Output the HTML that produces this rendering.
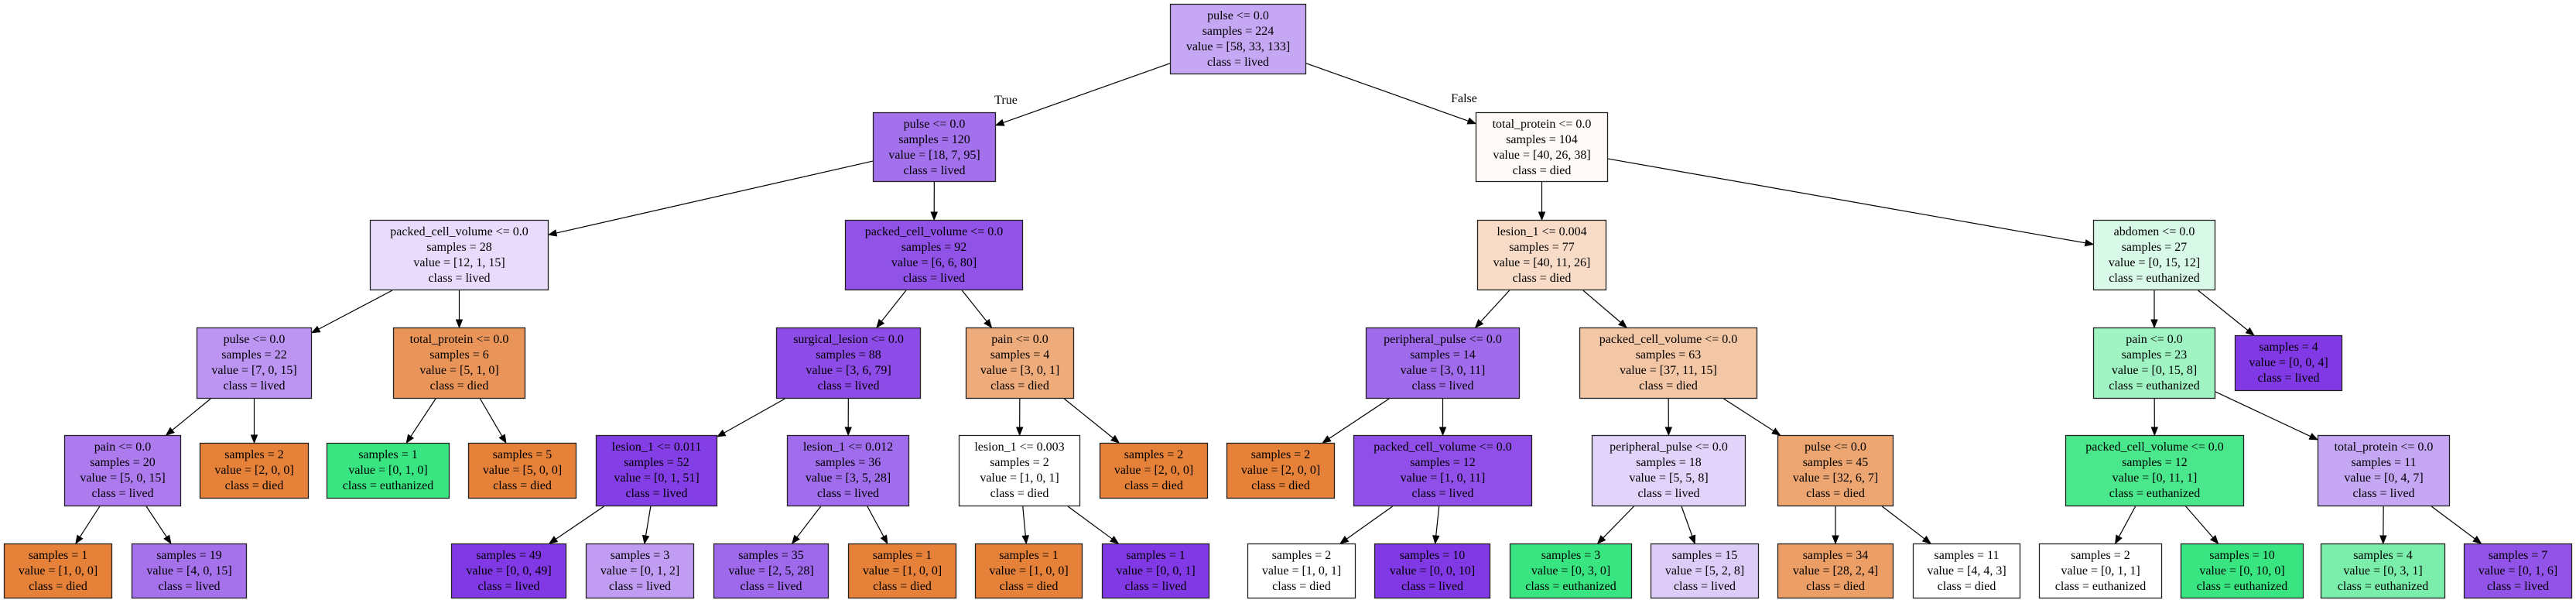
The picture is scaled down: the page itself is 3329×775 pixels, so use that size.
<!DOCTYPE html>
<html><head><meta charset="utf-8">
<style>
html,body{margin:0;padding:0;background:#fff;width:3329px;height:775px;overflow:hidden}
svg{display:block}
text{font-family:"Liberation Serif",serif;font-size:16px;fill:#000}
</style></head>
<body>
<svg id="s" width="3329" height="775" viewBox="0 0 3329 775" xmlns="http://www.w3.org/2000/svg"></svg>
<script>
var R={0:[5,96],1:[145,235],2:[284,375],3:[423,515],4:[562,654],5:[702,773]};
function B(x1,x2,row,fill,lines,p,leafY){
  var y1,y2;
  if(leafY){y1=leafY[0];y2=leafY[1];}
  else if(lines.length==3){var r=R[row];var c=(r[0]+r[1])/2; if(row==5){y1=r[0];y2=r[1];}else{y1=c-36;y2=c+36;}}
  else {y1=R[row][0];y2=R[row][1];}
  return {x1:x1,x2:x2,y1:y1,y2:y2,fill:fill,lines:lines,p:p};
}
var N=[];
function add(n){N.push(n);return N.length-1;}
var L="class = lived",D="class = died",E="class = euthanized";
var root=add(B(1512,1688,0,"#c5a7f3",["pulse <= 0.0","samples = 224","value = [58, 33, 133]",L],-1));
var n1=add(B(1128,1287,1,"#a471ed",["pulse <= 0.0","samples = 120","value = [18, 7, 95]",L],root));
var n2=add(B(478,709,2,"#e8dbfb",["packed_cell_volume <= 0.0","samples = 28","value = [12, 1, 15]",L],n1));
var n3=add(B(1092,1322,2,"#9152e8",["packed_cell_volume <= 0.0","samples = 92","value = [6, 6, 80]",L],n1));
var n4=add(B(254,403,3,"#bb95f1",["pulse <= 0.0","samples = 22","value = [7, 0, 15]",L],n2));
var n5=add(B(508,679,3,"#e99559",["total_protein <= 0.0","samples = 6","value = [5, 1, 0]",D],n2));
var n6=add(B(1003,1190,3,"#8d4be7",["surgical_lesion <= 0.0","samples = 88","value = [3, 6, 79]",L],n3));
var n7=add(B(1248,1388,3,"#eeab7b",["pain <= 0.0","samples = 4","value = [3, 0, 1]",D],n3));
var n8=add(B(83,234,4,"#ad7bee",["pain <= 0.0","samples = 20","value = [5, 0, 15]",L],n4));
add(B(258,399,4,"#e58139",["samples = 2","value = [2, 0, 0]",D],n4));
add(B(422,581,4,"#39e581",["samples = 1","value = [0, 1, 0]",E],n5));
add(B(605,745,4,"#e58139",["samples = 5","value = [5, 0, 0]",D],n5));
var n9=add(B(770,927,4,"#843ee6",["lesion_1 <= 0.011","samples = 52","value = [0, 1, 51]",L],n6));
var n10=add(B(1017,1175,4,"#a06dec",["lesion_1 <= 0.012","samples = 36","value = [3, 5, 28]",L],n6));
var n11=add(B(1239,1396,4,"#ffffff",["lesion_1 <= 0.003","samples = 2","value = [1, 0, 1]",D],n7));
add(B(1421,1561,4,"#e58139",["samples = 2","value = [2, 0, 0]",D],n7));
add(B(5,145,5,"#e58139",["samples = 1","value = [1, 0, 0]",D],n8));
add(B(170,319,5,"#a572ec",["samples = 19","value = [4, 0, 15]",L],n8));
add(B(583,732,5,"#8139e5",["samples = 49","value = [0, 0, 49]",L],n9));
add(B(757,897,5,"#c09cf2",["samples = 3","value = [0, 1, 2]",L],n9));
add(B(922,1071,5,"#9e69eb",["samples = 35","value = [2, 5, 28]",L],n10));
add(B(1096,1236,5,"#e58139",["samples = 1","value = [1, 0, 0]",D],n10));
add(B(1260,1399,5,"#e58139",["samples = 1","value = [1, 0, 0]",D],n11));
add(B(1424,1563,5,"#8139e5",["samples = 1","value = [0, 0, 1]",L],n11));
// right side
var m1=add(B(1907,2078,1,"#fffaf7",["total_protein <= 0.0","samples = 104","value = [40, 26, 38]",D],root));
var m2=add(B(1909,2076,2,"#f8dcc8",["lesion_1 <= 0.004","samples = 77","value = [40, 11, 26]",D],m1));
var m3=add(B(2705,2863,2,"#d9f9e8",["abdomen <= 0.0","samples = 27","value = [0, 15, 12]",E],m1));
var m4=add(B(1765,1964,3,"#a06cec",["peripheral_pulse <= 0.0","samples = 14","value = [3, 0, 11]",L],m2));
var m5=add(B(2041,2271,3,"#f3c6a5",["packed_cell_volume <= 0.0","samples = 63","value = [37, 11, 15]",D],m2));
var m6=add(B(2705,2863,3,"#a0f3c3",["pain <= 0.0","samples = 23","value = [0, 15, 8]",E],m3));
add(B(2888,3027,3,"#8139e5",["samples = 4","value = [0, 0, 4]",L],m3,[433,505]));
add(B(1585,1725,4,"#e58139",["samples = 2","value = [2, 0, 0]",D],m4));
var m7=add(B(1749,1980,4,"#8f4fe8",["packed_cell_volume <= 0.0","samples = 12","value = [1, 0, 11]",L],m4));
var m8=add(B(2057,2256,4,"#e1d3f9",["peripheral_pulse <= 0.0","samples = 18","value = [5, 5, 8]",L],m5));
var m9=add(B(2297,2447,4,"#eda672",["pulse <= 0.0","samples = 45","value = [32, 6, 7]",D],m5));
var m10=add(B(2669,2900,4,"#4ae78c",["packed_cell_volume <= 0.0","samples = 12","value = [0, 11, 1]",E],m6));
var m11=add(B(2995,3166,4,"#c5a7f3",["total_protein <= 0.0","samples = 11","value = [0, 4, 7]",L],m6));
add(B(1612,1752,5,"#ffffff",["samples = 2","value = [1, 0, 1]",D],m7));
add(B(1776,1926,5,"#8139e5",["samples = 10","value = [0, 0, 10]",L],m7));
add(B(1951,2109,5,"#39e581",["samples = 3","value = [0, 3, 0]",E],m8));
add(B(2133,2273,5,"#ddccf8",["samples = 15","value = [5, 2, 8]",L],m8));
add(B(2297,2447,5,"#eb9e66",["samples = 34","value = [28, 2, 4]",D],m9));
add(B(2472,2611,5,"#ffffff",["samples = 11","value = [4, 4, 3]",D],m9));
add(B(2635,2794,5,"#ffffff",["samples = 2","value = [0, 1, 1]",E],m10));
add(B(2818,2977,5,"#39e581",["samples = 10","value = [0, 10, 0]",E],m10));
add(B(2999,3160,5,"#7beeab",["samples = 4","value = [0, 3, 1]",E],m11));
add(B(3184,3324,5,"#9253e8",["samples = 7","value = [0, 1, 6]",L],m11));

var S=document.getElementById("s"),NS="http://www.w3.org/2000/svg";
function el(t,a,txt){var e=document.createElementNS(NS,t);for(var k in a)e.setAttribute(k,a[k]);if(txt!=null)e.textContent=txt;S.appendChild(e);return e;}
function clip(n,cx,cy,dx,dy){ // from center going along (dx,dy), find exit
  var hw=(n.x2-n.x1)/2,hh=(n.y2-n.y1)/2;
  var tx=dx?hw/Math.abs(dx):1e9,ty=dy?hh/Math.abs(dy):1e9;var t=Math.min(tx,ty);
  return [cx+dx*t,cy+dy*t];
}
// edges
N.forEach(function(c){
  if(c.p<0)return;var p=N[c.p];
  var pcx=(p.x1+p.x2)/2,pcy=(p.y1+p.y2)/2,ccx=(c.x1+c.x2)/2,ccy=(c.y1+c.y2)/2;
  var dx=ccx-pcx,dy=ccy-pcy;
  var a=clip(p,pcx,pcy,dx,dy),b=clip(c,ccx,ccy,-dx,-dy);
  var len=Math.hypot(b[0]-a[0],b[1]-a[1]),ux=(b[0]-a[0])/len,uy=(b[1]-a[1])/len;
  var bx=b[0]-ux*10,by=b[1]-uy*10;
  el("line",{x1:a[0],y1:a[1],x2:bx,y2:by,stroke:"#000","stroke-width":1.2});
  el("polygon",{points:b[0]+","+b[1]+" "+(bx-uy*4)+","+(by+ux*4)+" "+(bx+uy*4)+","+(by-ux*4),fill:"#000",stroke:"#000"});
});
N.forEach(function(n){
  el("rect",{x:n.x1+0.5,y:n.y1+0.5,width:n.x2-n.x1-1,height:n.y2-n.y1-1,fill:n.fill,stroke:"#222","stroke-width":1.3});
  var cx=(n.x1+n.x2)/2;
  n.lines.forEach(function(t,i){el("text",{x:cx,y:n.y1+20+20*i,"text-anchor":"middle"},t);});
});
el("text",{x:1300,y:134,"text-anchor":"middle"},"True");
el("text",{x:1892,y:132,"text-anchor":"middle"},"False");
</script>
</body></html>
